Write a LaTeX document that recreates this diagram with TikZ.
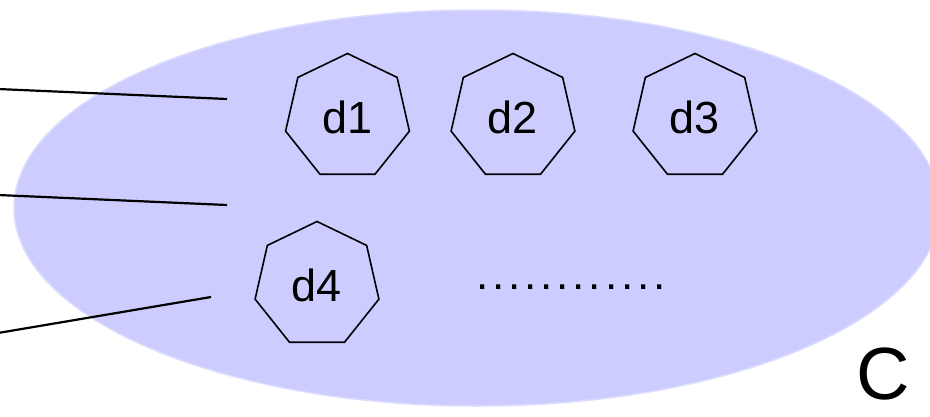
\documentclass[tikz,border=0pt]{standalone}
\usepackage{fontspec}
\setmainfont{Liberation Sans}
\usetikzlibrary{shapes.geometric}
\definecolor{setfill}{HTML}{CCCCFF}
\definecolor{setedge}{HTML}{DCDCFF}
\begin{document}
\begin{tikzpicture}[x=1pt,y=-1pt,
  hept/.style={regular polygon, regular polygon sides=7, draw=black, line width=1.6pt,
    minimum size=127pt, inner sep=0pt, font=\fontsize{45}{45}\selectfont},
  wire/.style={draw=black, line width=2.2pt},
  setshape/.style={ellipse, fill=setfill, draw=setedge, line width=1.5pt,
    minimum width=926pt, minimum height=396pt, inner sep=0pt}]
\useasboundingbox (0,0) rectangle (930,416);
\node[setshape] (set) at (477,208) {};
\node[hept] (d1) at (347.5,117) {d1};
\node[hept] (d2) at (513,117) {d2};
\node[hept] (d3) at (695,117) {d3};
\node[hept] (d4) at (317,285) {d4};
\node[anchor=base west, inner sep=0pt, font=\fontsize{44}{44}\selectfont\addfontfeature{LetterSpace=8.8}] (dots) at (476,289) {............};
\node[anchor=base west, inner sep=0pt, font=\fontsize{74}{74}\selectfont] (lblC) at (856,399) {C};
\coordinate (a1) at (-2,89);
\coordinate (b1) at (227,99);
\coordinate (a2) at (-2,195);
\coordinate (b2) at (227,205);
\coordinate (a3) at (-2,333);
\coordinate (b3) at (211,297);
\draw[wire] (a1) -- (b1);
\draw[wire] (a2) -- (b2);
\draw[wire] (a3) -- (b3);
\end{tikzpicture}
\end{document}
